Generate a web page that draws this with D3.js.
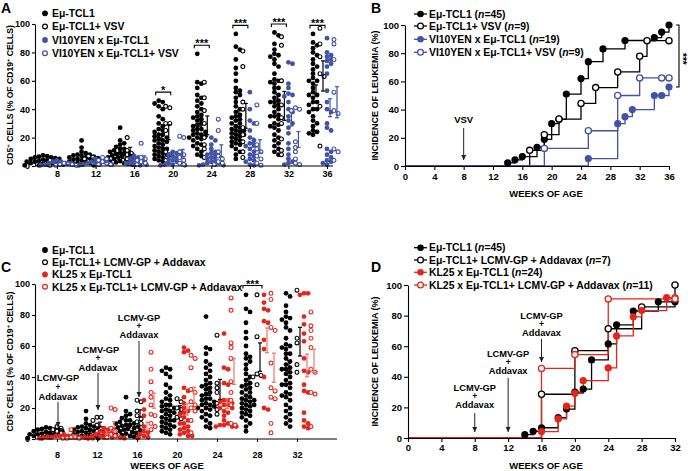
<!DOCTYPE html>
<html><head><meta charset="utf-8">
<script src="https://cdn.jsdelivr.net/npm/d3@7/dist/d3.min.js"></script>
<style>
body{margin:0;background:#fff}
svg text{font-family:"Liberation Sans",Arial,Helvetica,sans-serif;font-weight:bold;fill:#000}
</style></head><body>
<svg id="c" width="688" height="471"></svg>
<script>
// ---------------- DATA ----------------
const weeksA = [8,12,16,20,24,28,32,36];
const weeksC = [8,12,16,20,24,28,32];
const yTicks = [0,20,40,60,80,100];

// Panel A / C : CD5+ cells (% of CD19+ cells), one array per week
const tcl1 = [
 [7.5,7,6.5,6,5.5,5,4.5,4,3.5,3,3,2.5,2,2,1.5,1,1,0.5,0.5,5,6,3],
 [18,13,10,9,8,7.5,7,6.5,6,5.5,5,4.5,4,3.5,3,2.5,2,1.5,1,0.5,6,5,3,2,8],
 [27,18,16,15,13.5,12,11,10,10,9,8.5,8,7.5,7,6.5,6,5.5,5,4.5,4,3.5,3,2.5,2,1.5,1,12,9,6],
 [46,45,44,42,40,35,33,30,28,26,25,24,22,21,20,19,18,17,16,15,14,13,12,11,10,9,8,7,6,5,4,3,22,18,12,8],
 [79,59,58,55,50,48,46,44,42,40,38,36,35,34,33,32,30,29,28,26,25,24,23,22,21,20,19,18,16,15,14,12,10,8,7,26,22,20],
 [93,84,82,75,69,65,60,55,53,52,50,48,45,42,40,38,36,35,34,33,32,30,28,27,26,25,24,23,22,21,20,19,18,17,16,15,14,12,10,8,5,30,25,22],
 [94,92,86,82,79,78,77,75,72,70,65,61,60,59,58,55,52,50,48,46,45,43,42,40,38,36,35,33,30,29,27,25,22,20,18,16,14,12,10,8,55,45,35,28],
 [93,87,85,83,80,78,75,72,70,68,65,62,60,58,55,52,50,48,45,43,40,38,35,32,30,28,25,24,23,22,60,50,45,40]
];
const tcl1VSV = [
 [4,2,0.5],
 [7,6,5,3,2],
 [20,11,9,8,5],
 [42,41,30,30,25,10,8,4],
 [59,48,39,30,20,15,12,6],
 [81,70,45,40,27,22,17,10,6],
 [91,85,60,43,34,30,19,11,8],
 [97,86,77,65,63,42,14]
];
const vi10 = [
 [4,3,2,2,1,1,1,0.5,0.5,2,3],
 [5,4,3,3,2,2,1,1,0.5,2,1],
 [7,6,5,4,3,2,2,1,1,0.5,3],
 [10,8,8,7,6,5,4,3,2,2,1,1,0.5,0.5,9],
 [20,18,15,12,10,9,8,7,6,5,4,3,2,2,1,1,0.5,0.5],
 [52,40,32,30,25,20,18,16,15,14,12,10,8,7,5,4,3,1,0.5],
 [73,72,58,55,51,50,49,45,40,38,35,32,30,27,23,16,12,8,5,3,2,1],
 [90,80,78,77,75,74,72,70,65,53,45,40,38,30,27,25,12,10,8,6,4,3,2,1]
];
const vi10VSV = [
 [2,1,1,0.5,0.5,1.5],
 [6,5,4,3,2,1,1],
 [16,6,5,4,3,2,1],
 [21,20,10,8,6,4,2,1],
 [33,25,10,7,5,3,2,1],
 [43,30,15,12,10,7,5,2,0.5],
 [41,40,39,17,13,10,5,2,1],
 [89,86,75,52,39,37,12,10,4]
];
const tcl1GP = [
 [8,7,6,5,4],
 [14,14,12,9,7,5,4],
 [25,24,18,15,13,11,10],
 [26,24,20,19,14,13],
 [67,36,33,30,23,19,16],
 [93,66,42,41,40,35],
 [96,65,62,48,43]
];
const kl25 = [
 [3,2,2,2,1,1,1,1,0.5,0.5,0.5,1.5,2,1],
 [7,6,5,4,3,3,2,2,1,1,1,0.5,0.5,2,4],
 [25,19,15,8,5,3,2,1,0.5,4],
 [59,57,56,33,31,27,23,20,18,17,16,14,12,10,8,7,5,4,3,2,2,10,6],
 [68,46,45,36,35,25,25,24,23,22,20,18,17,15,12,10,9,8,8,8,22,20,9],
 [93,88,84,83,76,75,64,58,40,20,19],
 [94,94,93,79,74,68,63,52,44,43,35,31,30,17,12,10,8,7]
];
const kl25GP = [
 [6,1,1,0.5,0.5,0.5],
 [20,19,7,5,3,2,1],
 [56,45,37,30,27,22,16,15,10,8,6],
 [54,52,46,32,30,24,22,20,18,12,4],
 [91,83,62,59,52,37,30,25,22,10,9],
 [94,90,72,70,49,33,31,27,26,10,4],
 [82,73,70,65,59,45,43,30,29,8]
];
const sigA = ["","","","*","***","***","***","***"];
const sigC = ["","","","","","***",""];

// Panel B : incidence of leukemia (%)
const bTcl1W = [14,15,16,18,19,20,21,22,24,25,27,30,34,35,36];
const bTcl1V = [2.2,4.4,6.7,13.3,18.9,30,33,51,62,74,83,89,91,95,100];
const bVsvW  = [17,19,21,24,26,29,32,33,36];
const bVsvV  = [11.1,22.2,33.3,44.4,55.6,66.7,77.8,88.9,88.9];
const bVi10W = [25,29,30,31,34,35,36];
const bVi10V = [5.3,30,35,40,50,50,56];
const bVi10VsvW = [19,25,29,32,35,36];
const bVi10VsvV = [12.5,25,50,62.5,62.5,62.5];

// Panel D
const dTcl1W = [14,15,16,18,19,20,21,22,24,25,27,30,32];
const dTcl1V = [2.2,4.4,6.7,13.3,18.9,30,32,51,61.5,74,83,89,89];
const dGpW   = [16,20,24,28,32];
const dGpV   = [28.6,57.1,71.4,85.7,100];
const dKl25W = [16,18,19,20,21,24,25,27,28,31,32];
const dKl25V = [4.2,12.5,20.8,29.2,37.5,45.8,66.7,79.2,83.3,91.7,91.7];
const dKl25GpW = [16,20,24,32];
const dKl25GpV = [45.5,54.5,90.9,90.9];

// ---------------- DRAWING ----------------
const BLACK="#000", BLUE="#4252a4", RED="#e5251b", RED_LT="#e8776e";
const FONT="Liberation Sans, Arial, sans-serif";
const LEG_FS=10.4;
const svg = d3.select("#c");
const defs = svg.append("defs");
defs.append("marker").attr("id","arr").attr("viewBox","0 0 10 10").attr("refX",10).attr("refY",5)
  .attr("markerWidth",5).attr("markerHeight",6).attr("markerUnits","userSpaceOnUse").attr("orient","auto")
  .append("path").attr("d","M0,0L10,5L0,10Z").attr("fill","#222");

function styleAxis(g, fs){
  g.attr("font-size",fs).attr("font-family",FONT).attr("font-weight","bold");
  g.selectAll("path,line").attr("stroke","#000").attr("stroke-width",1.1);
  g.selectAll("text").attr("fill","#000");
}

function swarm(vals, y, cx, r){
  const pts = vals.map(v=>({v, y:y(v)})).sort((a,b)=>a.y-b.y);
  const placed=[]; const step=r*0.85; const md=(2*r*0.82)**2;
  for(const p of pts){
    p.x=cx;
    for(let k=0;k<80;k++){
      const off=(k%2?1:-1)*Math.ceil(k/2)*step;
      const xx=cx+off;
      if(placed.every(q=>(q.x-xx)**2+(q.y-p.y)**2>=md)){p.x=xx;break;}
    }
    placed.push(p);
  }
  return placed;
}

function scatterPanel(cfg){
  const g=svg.append("g");
  const x=d3.scalePoint().domain(cfg.weeks).range(cfg.xr);
  const y=d3.scaleLinear().domain([0,100]).range(cfg.yr);
  const R=2.4;
  cfg.series.forEach(s=>{
    cfg.weeks.forEach((w,wi)=>{
      const vals=s.data[wi]; if(!vals) return;
      const cx=x(w)+s.off;
      const pts=swarm(vals,y,cx,R);
      g.selectAll(null).data(pts).enter().append("circle")
        .attr("cx",d=>d.x).attr("cy",d=>d.y).attr("r",s.filled?R:R-0.45)
        .attr("fill",s.filled?s.color:"#fff").attr("stroke",s.color).attr("stroke-width",s.filled?0:1.1);
      const m=d3.mean(vals), sem=d3.deviation(vals)/Math.sqrt(vals.length);
      const ex=cx+3, ec=s.ebColor||s.color;
      g.append("line").attr("x1",ex).attr("x2",ex).attr("y1",y(m-sem)).attr("y2",y(m+sem)).attr("stroke",ec).attr("stroke-width",1.2);
      [m-sem,m+sem].forEach(v=>g.append("line").attr("x1",ex-2).attr("x2",ex+2).attr("y1",y(v)).attr("y2",y(v)).attr("stroke",ec).attr("stroke-width",1.2));
    });
  });
  // significance brackets
  cfg.weeks.forEach((w,wi)=>{
    const t=cfg.sig[wi]; if(!t) return;
    const mx=Math.min(d3.max(cfg.series[0].data[wi])+6,100);
    const yy=y(mx), x1=x(w)+cfg.series[0].off-3, x2=x(w)+cfg.series[1].off+5;
    g.append("path").attr("d",`M${x1},${yy+3}V${yy}H${x2}V${yy+3}`).attr("fill","none").attr("stroke","#000").attr("stroke-width",1.1);
    g.append("text").attr("x",(x1+x2)/2).attr("y",yy+2).attr("text-anchor","middle").attr("font-size",11).text(t);
  });
  // axes
  const ya=g.append("g").attr("transform",`translate(${cfg.axX},0)`)
    .call(d3.axisLeft(y).tickValues(yTicks).tickSize(3).tickSizeOuter(0).tickPadding(2));
  styleAxis(ya,9);
  const xa=g.append("g").attr("transform",`translate(0,${cfg.yr[0]})`)
    .call(d3.axisBottom(x).tickSize(3).tickPadding(cfg.xpad));
  xa.select(".domain").remove();
  styleAxis(xa,9);
  g.append("line").attr("x1",cfg.axX).attr("x2",cfg.axEnd).attr("y1",cfg.yr[0]).attr("y2",cfg.yr[0]).attr("stroke","#000").attr("stroke-width",1.1);
  // y title
  const yt=g.append("text").attr("transform",`translate(${cfg.titleX},${(cfg.yr[0]+cfg.yr[1])/2}) rotate(-90)`)
    .attr("text-anchor","middle").attr("font-size",8.6);
  yt.append("tspan").text("CD5");
  yt.append("tspan").attr("font-size",6).attr("dy",-3).text("+");
  yt.append("tspan").attr("dy",3).text(" CELLS (% OF CD19");
  yt.append("tspan").attr("font-size",6).attr("dy",-3).text("+");
  yt.append("tspan").attr("dy",3).text(" CELLS)");
  // legend
  cfg.series.forEach((s,i)=>{
    const ly=cfg.legY[i];
    g.append("circle").attr("cx",45).attr("cy",ly).attr("r",s.filled?2.9:2.4)
      .attr("fill",s.filled?s.color:"#fff").attr("stroke",s.color).attr("stroke-width",s.filled?0:1.2);
    g.append("text").attr("x",52).attr("y",ly+3.7).attr("font-size",LEG_FS).text(s.label);
  });
  return {g,x,y};
}

function kmPanel(cfg){
  const g=svg.append("g");
  const x=d3.scaleLinear().domain([0,cfg.maxW]).range(cfg.xr);
  const y=d3.scaleLinear().domain([0,100]).range(cfg.yr);
  cfg.series.forEach(s=>{
    let d=`M${x(0)},${y(0)}`;
    s.w.forEach((w,i)=>{d+=`H${x(w)}V${y(s.v[i])}`;});
    g.append("path").attr("d",d).attr("fill","none").attr("stroke",s.color).attr("stroke-width",1.3);
  });
  cfg.series.forEach(s=>{
    g.selectAll(null).data(s.w.map((w,i)=>[w,s.v[i]])).enter().append("circle")
      .attr("cx",d=>x(d[0])).attr("cy",d=>y(d[1])).attr("r",s.filled?3.6:3.1)
      .attr("fill",s.filled?s.color:"#fff").attr("stroke",s.color).attr("stroke-width",s.filled?0:1.3);
  });
  const ya=g.append("g").attr("transform",`translate(${cfg.xr[0]},0)`)
    .call(d3.axisLeft(y).tickValues(yTicks).tickSize(4).tickSizeOuter(0).tickPadding(2));
  styleAxis(ya,9.5);
  const xa=g.append("g").attr("transform",`translate(0,${cfg.yr[0]})`)
    .call(d3.axisBottom(x).tickValues(d3.range(0,cfg.maxW+1,4)).tickSize(4).tickSizeOuter(0).tickPadding(cfg.xpad));
  styleAxis(xa,9.5);
  g.append("text").attr("transform",`translate(${cfg.titleX},${(cfg.yr[0]+cfg.yr[1])/2}) rotate(-90)`)
    .attr("text-anchor","middle").attr("font-size",9).text("INCIDENCE OF LEUKEMIA (%)");
  g.append("text").attr("x",546).attr("y",cfg.xTitleY).attr("text-anchor","middle").attr("font-size",9.5).text("WEEKS OF AGE");
  cfg.series.forEach((s,i)=>{
    const ly=cfg.legY[i];
    g.append("line").attr("x1",414).attr("x2",427).attr("y1",ly).attr("y2",ly).attr("stroke",s.color).attr("stroke-width",1.3);
    g.append("circle").attr("cx",420.5).attr("cy",ly).attr("r",s.filled?3.3:2.9)
      .attr("fill",s.filled?s.color:"#fff").attr("stroke",s.color).attr("stroke-width",s.filled?0:1.3);
    const t=g.append("text").attr("x",429).attr("y",ly+3.7).attr("font-size",LEG_FS);
    t.append("tspan").text(s.label+" (");
    t.append("tspan").attr("font-style","italic").text("n");
    t.append("tspan").text("="+s.n+")");
  });
  return {g,x,y};
}

function annot(g, xx, lines, tipY, fromY){
  lines.forEach(l=>g.append("text").attr("x",xx).attr("y",l[1]).attr("text-anchor","middle")
    .attr("font-size",l[0]==="+"?8.5:9.3).text(l[0]));
  g.append("line").attr("x1",xx).attr("x2",xx).attr("y1",fromY).attr("y2",tipY).attr("stroke","#222").attr("stroke-width",1).attr("marker-end","url(#arr)");
}

// Panel A
scatterPanel({
  weeks:weeksA, xr:[57,327], yr:[166,24], axX:35, axEnd:333, xpad:2, titleX:13,
  legY:[13.3,26.5,40,53.3], sig:sigA,
  series:[
    {data:tcl1,color:BLACK,filled:true,off:-14,label:"Eμ-TCL1"},
    {data:tcl1VSV,color:BLACK,filled:false,off:-7,label:"Eμ-TCL1+ VSV"},
    {data:vi10,color:BLUE,filled:true,off:0,label:"VI10YEN x Eμ-TCL1"},
    {data:vi10VSV,color:BLUE,filled:false,off:7,label:"VI10YEN x Eμ-TCL1+ VSV"}
  ]
});
svg.append("text").attr("x",1).attr("y",13).attr("font-size",14).text("A");

// Panel C
const pc = scatterPanel({
  weeks:weeksC, xr:[57,297], yr:[439,284], axX:35, axEnd:337, xpad:10, titleX:13,
  legY:[250,262.3,274.5,286.8], sig:sigC,
  series:[
    {data:tcl1.slice(0,7),color:BLACK,filled:true,off:-11,label:"Eμ-TCL1"},
    {data:tcl1GP,color:BLACK,filled:false,off:0,label:"Eμ-TCL1+ LCMV-GP + Addavax"},
    {data:kl25,color:RED,filled:true,off:7,label:"KL25 x Eμ-TCL1",ebColor:RED_LT},
    {data:kl25GP,color:RED,filled:false,off:14,label:"KL25 x Eμ-TCL1+ LCMV-GP + Addavax",ebColor:RED_LT}
  ]
});
svg.append("text").attr("x",1).attr("y",271.5).attr("font-size",14).text("C");
pc.g.append("text").attr("x",167).attr("y",468.5).attr("text-anchor","middle").attr("font-size",9.5).text("WEEKS OF AGE");
annot(pc.g, pc.x(8)+1, [["LCMV-GP",381],["+",389.5],["Addavax",399.5]], 427, 402);
annot(pc.g, pc.x(12)+1, [["LCMV-GP",352.5],["+",361],["Addavax",370.5]], 410, 373);
annot(pc.g, pc.x(16)+2, [["LCMV-GP",320.5],["+",329],["Addavax",338]], 397, 341);

// Panel B
const pb = kmPanel({
  maxW:36, xr:[405,669], yr:[166,25], xpad:3, titleX:378, xTitleY:197, legY:[14,26,39.3,52.3],
  series:[
    {w:bTcl1W,v:bTcl1V,color:BLACK,filled:true,label:"Eμ-TCL1",n:45},
    {w:bVsvW,v:bVsvV,color:BLACK,filled:false,label:"Eμ-TCL1+ VSV",n:9},
    {w:bVi10W,v:bVi10V,color:BLUE,filled:true,label:"VI10YEN x Eμ-TCL1",n:19},
    {w:bVi10VsvW,v:bVi10VsvV,color:BLUE,filled:false,label:"VI10YEN x Eμ-TCL1+ VSV",n:9}
  ]
});
svg.append("text").attr("x",371).attr("y",12.5).attr("font-size",14).text("B");
pb.g.append("text").attr("x",pb.x(8)).attr("y",122.5).attr("text-anchor","middle").attr("font-size",9.5).text("VSV");
pb.g.append("line").attr("x1",pb.x(8)).attr("x2",pb.x(8)).attr("y1",128).attr("y2",160).attr("stroke","#222").attr("stroke-width",1).attr("marker-end","url(#arr)");
pb.g.append("path").attr("d",`M676,${pb.y(100)}H679V${pb.y(56)}H676`).attr("fill","none").attr("stroke","#000").attr("stroke-width",1.1);
pb.g.append("text").attr("transform",`translate(678.5,${pb.y(76)}) rotate(90)`).attr("text-anchor","middle").attr("font-size",10).text("***");

// Panel D
const pd = kmPanel({
  maxW:32, xr:[408,675], yr:[438,285], xpad:2, titleX:378, xTitleY:468.5, legY:[247.7,260,272.3,285],
  series:[
    {w:dTcl1W,v:dTcl1V,color:BLACK,filled:true,label:"Eμ-TCL1",n:45},
    {w:dGpW,v:dGpV,color:BLACK,filled:false,label:"Eμ-TCL1+ LCMV-GP + Addavax",n:7},
    {w:dKl25W,v:dKl25V,color:RED,filled:true,label:"KL25 x Eμ-TCL1",n:24},
    {w:dKl25GpW,v:dKl25GpV,color:RED,filled:false,label:"KL25 x Eμ-TCL1+ LCMV-GP + Addavax",n:11}
  ]
});
svg.append("text").attr("x",371).attr("y",272).attr("font-size",14).text("D");
annot(pd.g, pd.x(8), [["LCMV-GP",390.5],["+",399],["Addavax",408]], 432, 413);
annot(pd.g, pd.x(12), [["LCMV-GP",356.5],["+",365],["Addavax",374]], 432, 378);
annot(pd.g, pd.x(16), [["LCMV-GP",318.5],["+",327],["Addavax",335.5]], 362, 339);
</script>
</body></html>
